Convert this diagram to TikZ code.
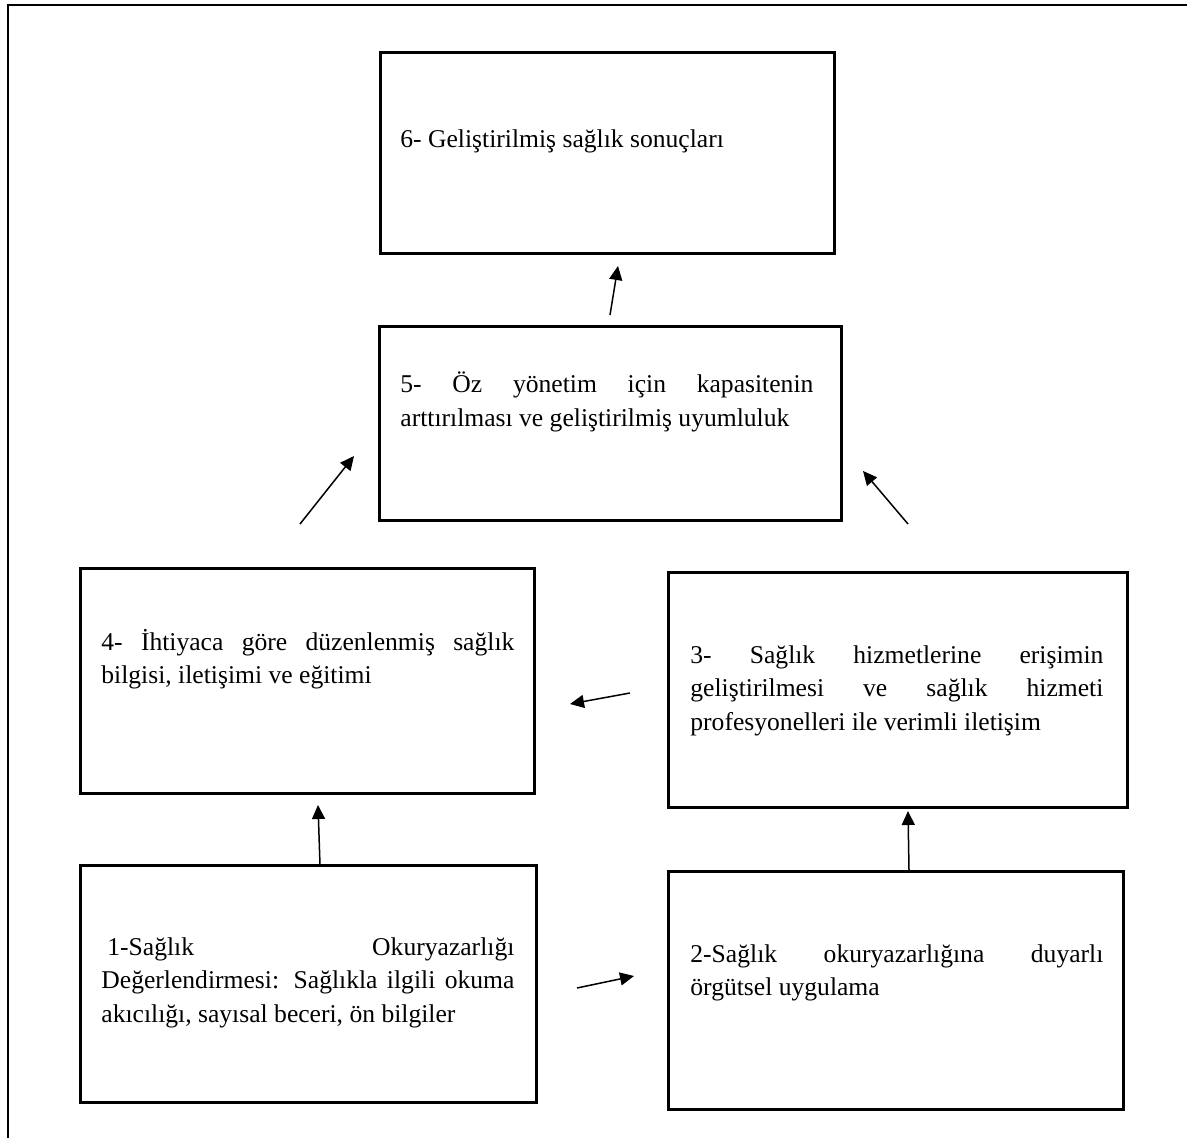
\documentclass[tikz,border=0pt]{standalone}
\usepackage{fontspec}
\setmainfont{Liberation Serif}
\usetikzlibrary{arrows.meta}
\begin{document}
\begin{tikzpicture}[x=0.5pt,y=-0.5pt,
  box/.style={draw,line width=1.5pt,inner sep=0pt},
  txt/.style={anchor=base west,inner sep=0pt,text width=206.5pt,align=justify,
    font=\fontsize{12.8pt}{16.8pt}\selectfont,
    execute at begin node={\hyphenpenalty=10000\relax\exhyphenpenalty=10000\relax\hbadness=10000\relax\hfuzz=5pt\relax}},
  flow/.style={line width=0.75pt,-{Triangle[length=7pt,width=6.5pt]}}]
\useasboundingbox (0,0) rectangle (1187,1138);
% page frame (only its top and left edges fall inside the page)
\draw[line width=1.3pt] (8,1138) -- (8,5) -- (1187,5);

% boxes, placed by centre and size
\node[box] (b6) at (607,153.5) [minimum width=454*0.5pt,minimum height=201*0.5pt] {};
\node[box] (b5) at (610,423.5) [minimum width=462*0.5pt,minimum height=193*0.5pt] {};
\node[box] (b4) at (307,680.5) [minimum width=454*0.5pt,minimum height=225*0.5pt] {};
\node[box] (b3) at (897.5,689.5) [minimum width=459*0.5pt,minimum height=235*0.5pt] {};
\node[box] (b1) at (308,983.5) [minimum width=456*0.5pt,minimum height=237*0.5pt] {};
\node[box] (b2) at (895.5,990) [minimum width=455*0.5pt,minimum height=238*0.5pt] {};

% texts
\node[txt] (t6) at (400,148) {6- Geliştirilmiş sağlık sonuçları};
\node[txt] (t5) at (400,393) {5- Öz yönetim için kapasitenin\linebreak arttırılması ve geliştirilmiş uyumluluk};
\node[txt] (t4) at (101,650) {4- İhtiyaca göre düzenlenmiş sağlık\linebreak bilgisi, iletişimi ve eğitimi};
\node[txt] (t3) at (690,663) {3- Sağlık hizmetlerine erişimin\linebreak geliştirilmesi ve sağlık hizmeti\linebreak profesyonelleri ile verimli iletişim};
\node[txt] (t1) at (101,955) {\hspace*{3pt}1-Sağlık Okuryazarlığı\linebreak Değerlendirmesi: Sağlıkla ilgili okuma\linebreak akıcılığı, sayısal beceri, ön bilgiler};
\node[txt] (t2) at (690,962) {2-Sağlık okuryazarlığına duyarlı\linebreak örgütsel uygulama};

% arrow end points
\coordinate (a65s) at (610,315); \coordinate (a65e) at (618,266);
\coordinate (a54s) at (300,524); \coordinate (a54e) at (354,456);
\coordinate (a53s) at (908,524); \coordinate (a53e) at (863,471);
\coordinate (a43s) at (630,693); \coordinate (a43e) at (570,704);
\coordinate (a41s) at (320,865); \coordinate (a41e) at (318,805);
\coordinate (a32s) at (909,870); \coordinate (a32e) at (908,811);
\coordinate (a12s) at (577,988); \coordinate (a12e) at (634,976);

\draw[flow] (a65s) -- (a65e);
\draw[flow] (a54s) -- (a54e);
\draw[flow] (a53s) -- (a53e);
\draw[flow] (a43s) -- (a43e);
\draw[flow] (a41s) -- (a41e);
\draw[flow] (a32s) -- (a32e);
\draw[flow] (a12s) -- (a12e);
\end{tikzpicture}
\end{document}
